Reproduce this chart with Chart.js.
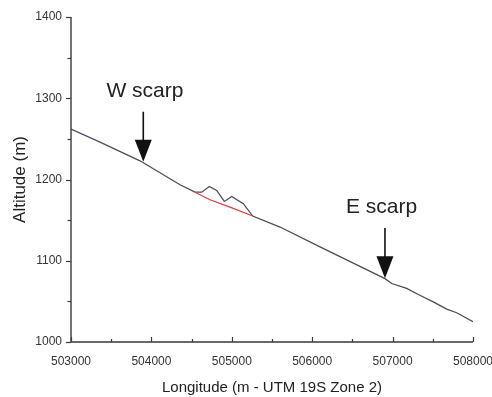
<!DOCTYPE html>
<html>
<head>
<meta charset="utf-8">
<script src="https://cdn.jsdelivr.net/npm/chart.js@4.4.1/dist/chart.umd.min.js"></script>
<style>
html,body{margin:0;padding:0;background:#fff;overflow:hidden;}
canvas{display:block;}
</style>
</head>
<body>
<canvas id="c" width="492" height="397"></canvas>
<script>
// Topographic profile (black line)
const profileX = [503000, 503361, 503858, 504356, 504542, 504626, 504720, 504812, 504907, 504999, 505143, 505260, 505600, 506097, 506905, 506989, 507175, 507320, 507506, 507673, 507797, 508000];
const profileY = [1262, 1246, 1223, 1193.5, 1184.4, 1184.4, 1191.4, 1186.5, 1173, 1179.1, 1170.2, 1155, 1141.5, 1117, 1078, 1072, 1066, 1058.5, 1049.4, 1040.5, 1036, 1025];
// Reconstructed surface beneath the bump (red line)
const redX = [504542, 504729, 504978, 505260];
const redY = [1184.4, 1175.1, 1166, 1155];
// Axis ticks
const xTicks = [503000, 504000, 505000, 506000, 507000, 508000];
const yTicks = [1000, 1100, 1200, 1300, 1400];
// Annotation labels
const annotLabels = ["W scarp", "E scarp"];
const annotX = [503899, 506905];
const annotTipY = [1221.9, 1078.4];

const toPts = (xs, ys) => xs.map((x, i) => ({x: x, y: ys[i]}));

const annotStyle = [
  {textX: 503920, textY: 1301.5, shaftTop: 1283.4},
  {textX: 506862, textY: 1158.8, shaftTop: 1140.3}
];

const axisPlugin = {
  id: 'axisPlugin',
  afterDatasetsDraw(chart) {
    const ctx = chart.ctx;
    const xs = chart.scales.x, ys = chart.scales.y;
    const a = chart.chartArea;
    ctx.save();
    ctx.strokeStyle = '#3a3a3a';
    ctx.lineWidth = 1.4;
    ctx.beginPath();
    ctx.moveTo(a.left, a.top);
    ctx.lineTo(a.left, a.bottom);
    ctx.lineTo(a.right, a.bottom);
    ctx.stroke();
    ctx.lineWidth = 1.2;
    // y ticks (outward, left)
    for (let v = ys.min; v <= ys.max; v += 50) {
      const py = Math.round(ys.getPixelForValue(v)) + 0.5;
      const len = (v % 100 === 0) ? 5 : 3.5;
      ctx.beginPath();
      ctx.moveTo(a.left - len, py);
      ctx.lineTo(a.left, py);
      ctx.stroke();
    }
    // x ticks (inward, up)
    for (let v = xs.min; v <= xs.max; v += 500) {
      const px = Math.round(xs.getPixelForValue(v)) + 0.5;
      const len = (v % 1000 === 0) ? 5 : 3;
      ctx.beginPath();
      ctx.moveTo(px, a.bottom);
      ctx.lineTo(px, a.bottom - len);
      ctx.stroke();
    }
    // annotations
    for (let i = 0; i < annotLabels.length; i++) {
      const st = annotStyle[i];
      const px = xs.getPixelForValue(annotX[i]);
      const tip = ys.getPixelForValue(annotTipY[i]);
      const top = ys.getPixelForValue(st.shaftTop);
      const headLen = 22, headHalf = 8.5;
      ctx.strokeStyle = '#111';
      ctx.fillStyle = '#111';
      ctx.lineWidth = 1.6;
      ctx.beginPath();
      ctx.moveTo(px, top);
      ctx.lineTo(px, tip - headLen + 2);
      ctx.stroke();
      ctx.beginPath();
      ctx.moveTo(px - headHalf, tip - headLen);
      ctx.lineTo(px + headHalf, tip - headLen);
      ctx.lineTo(px, tip);
      ctx.closePath();
      ctx.fill();
      ctx.fillStyle = '#222';
      ctx.font = '21px "Liberation Sans", Arial, sans-serif';
      ctx.textAlign = 'center';
      ctx.textBaseline = 'alphabetic';
      ctx.fillText(annotLabels[i], xs.getPixelForValue(st.textX), ys.getPixelForValue(st.textY));
    }
    ctx.restore();
  }
};

new Chart(document.getElementById('c'), {
  type: 'line',
  data: {
    datasets: [
      {data: toPts(redX, redY), borderColor: '#e0393b', borderWidth: 1.2, pointRadius: 0, tension: 0, fill: false},
      {data: toPts(profileX, profileY), borderColor: '#4c4c5a', borderWidth: 1.3, pointRadius: 0, tension: 0, fill: false}
    ]
  },
  options: {
    responsive: false,
    animation: false,
    devicePixelRatio: 1,
    layout: {padding: {left: 0, right: 19, top: 17, bottom: 0}},
    plugins: {legend: {display: false}, tooltip: {enabled: false}},
    scales: {
      x: {
        type: 'linear', min: 503000, max: 508000,
        afterBuildTicks: (s) => { s.ticks = xTicks.map(v => ({value: v})); },
        afterFit: (s) => { s.paddingLeft = 0; s.paddingRight = 0; s.height = 55; },
        grid: {display: false, drawTicks: false},
        border: {display: false},
        ticks: {font: {size: 12, family: '"Liberation Sans", Arial, sans-serif'}, color: '#333', padding: 12, maxRotation: 0, autoSkip: false, callback: (v) => String(v)},
        title: {display: true, text: 'Longitude (m - UTM 19S Zone 2)', color: '#222', font: {size: 15, family: '"Liberation Sans", Arial, sans-serif'}, padding: {top: 4, bottom: 0}}
      },
      y: {
        type: 'linear', min: 1000, max: 1400,
        afterBuildTicks: (s) => { s.ticks = yTicks.map(v => ({value: v})); },
        afterFit: (s) => { s.paddingTop = 0; s.paddingBottom = 0; s.width = 71; },
        grid: {display: false, drawTicks: false},
        border: {display: false},
        ticks: {font: {size: 12, family: '"Liberation Sans", Arial, sans-serif'}, color: '#333', padding: 9, callback: (v) => String(v)},
        title: {display: true, text: 'Altitude (m)', color: '#222', font: {size: 17, family: '"Liberation Sans", Arial, sans-serif'}, padding: {top: 10, bottom: 0}}
      }
    }
  },
  plugins: [axisPlugin]
});
</script>
</body>
</html>
